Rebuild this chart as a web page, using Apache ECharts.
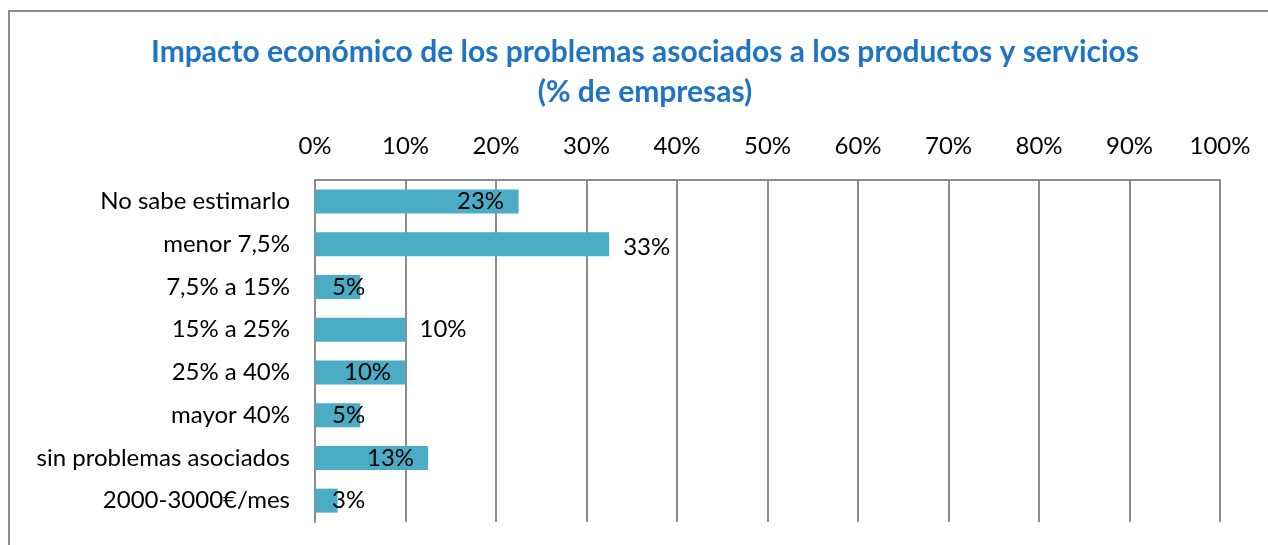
<!DOCTYPE html>
<html>
<head>
<meta charset="utf-8">
<script src="https://cdn.jsdelivr.net/npm/echarts@6/dist/echarts.min.js"></script>
<style>
  html, body { margin: 0; padding: 0; background: #ffffff; }
  #chart { width: 1268px; height: 545px; }
</style>
</head>
<body>
<div id="chart"></div>
<script>
// Impact ranges (category axis, top to bottom)
const categories = [
  'No sabe estimarlo',
  'menor 7,5%',
  '7,5% a 15%',
  '15% a 25%',
  '25% a 40%',
  'mayor 40%',
  'sin problemas asociados',
  '2000-3000€/mes'
];

// Share of companies, in %
const shares = [22.5, 32.5, 5, 10, 10, 5, 12.5, 2.5];

// Value axis ticks
const axisMin = 0;
const axisMax = 100;
const axisStep = 10;

const TITLE = 'Impacto económico de los problemas asociados a los productos y servicios\n(% de empresas)';

const FONT = 'Lato, "Open Sans", sans-serif';
const GRID = '#8c8c8c';
const TEXT_SIZE = 24;

// Where each value label sits relative to its bar
const labelPlacement = [
  { position: 'insideLeft', distance: 142 },
  { position: 'right', distance: 14, offset: [0, 3] },
  { position: 'insideLeft', distance: 17 },
  { position: 'right', distance: 14 },
  { position: 'insideLeft', distance: 29 },
  { position: 'insideLeft', distance: 17 },
  { position: 'insideLeft', distance: 52 },
  { position: 'insideLeft', distance: 17 }
];

const chart = echarts.init(document.getElementById('chart'), null, { renderer: 'canvas' });

chart.setOption({
  animation: false,
  backgroundColor: '#ffffff',
  graphic: [
    {
      type: 'rect',
      shape: { x: 9, y: 11, width: 1400, height: 700 },
      style: { fill: 'none', stroke: GRID, lineWidth: 2 },
      silent: true
    },
    {
      type: 'text',
      x: 645,
      y: 32,
      silent: true,
      style: {
        text: TITLE,
        fontFamily: FONT,
        fontSize: 30,
        fontWeight: 'bold',
        fill: '#1f74c6',
        lineHeight: 40,
        align: 'center',
        verticalAlign: 'top'
      }
    }
  ],
  grid: { left: 315, right: 48, top: 180, bottom: 23, containLabel: false },
  xAxis: {
    type: 'value',
    position: 'top',
    min: axisMin,
    max: axisMax,
    interval: axisStep,
    axisLine: { show: true, lineStyle: { color: GRID, width: 2 } },
    axisTick: { show: false },
    splitLine: { show: true, lineStyle: { color: GRID, width: 2 } },
    axisLabel: {
      formatter: '{value}%',
      fontFamily: FONT,
      fontSize: TEXT_SIZE,
      color: '#000000',
      margin: 22
    }
  },
  yAxis: {
    type: 'category',
    inverse: true,
    data: categories,
    axisLine: { show: true, lineStyle: { color: GRID, width: 2 } },
    axisTick: { show: false },
    splitLine: { show: false },
    axisLabel: {
      fontFamily: FONT,
      fontSize: TEXT_SIZE,
      color: '#000000',
      margin: 25
    }
  },
  series: [{
    type: 'bar',
    barWidth: 24,
    itemStyle: { color: '#4bacc6' },
    data: shares.map((v, i) => ({
      value: v,
      label: Object.assign({}, labelPlacement[i])
    })),
    label: {
      show: true,
      fontFamily: FONT,
      fontSize: TEXT_SIZE,
      color: '#000000',
      formatter: p => Math.round(p.value) + '%'
    }
  }]
});
</script>
</body>
</html>
